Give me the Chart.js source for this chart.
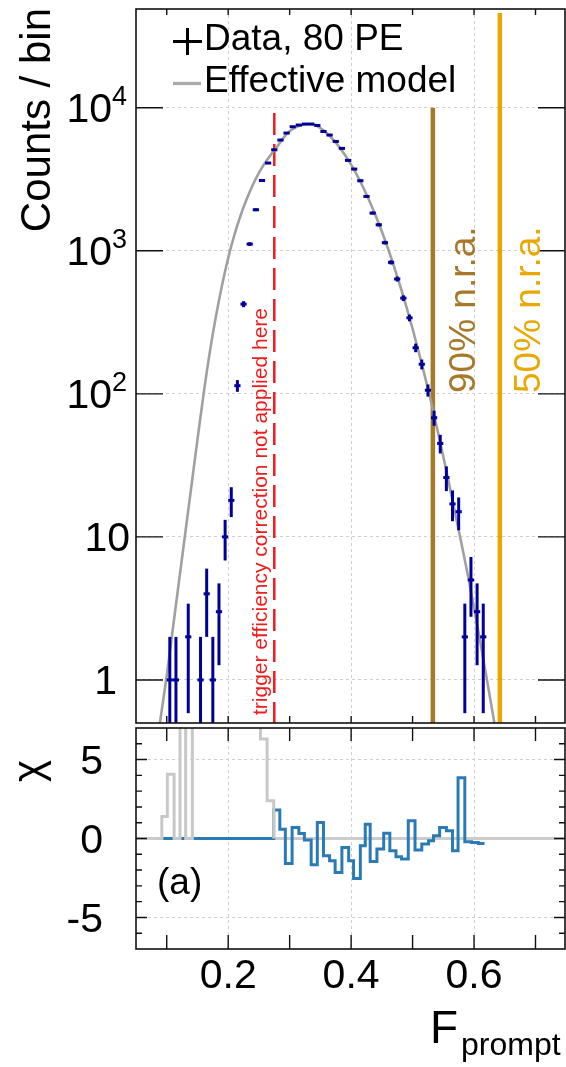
<!DOCTYPE html>
<html>
<head>
<meta charset="utf-8">
<script src="https://cdn.jsdelivr.net/npm/chart.js@4.4.0/dist/chart.umd.min.js"></script>
<style>
  body { margin: 0; background: #fff; }
  #wrap { position: relative; width: 566px; height: 1067px; }
  canvas { position: absolute; left: 0; }
</style>
</head>
<body>
<div id="wrap">
  <canvas id="top" width="566" height="725" style="top:0px"></canvas>
  <canvas id="bottom" width="566" height="342" style="top:725px"></canvas>
</div>
<script>
var FONT = '"Liberation Sans", Arial, Helvetica, sans-serif';

// data histogram, 0.01 wide bins in F_prompt (empty bins are not drawn)
var binCentres = [0.105, 0.115, 0.135, 0.155, 0.165, 0.175, 0.185, 0.195, 0.205, 0.215,
                  0.225, 0.235, 0.245, 0.255, 0.265, 0.275, 0.285, 0.295, 0.305, 0.315,
                  0.325, 0.335, 0.345, 0.355, 0.365, 0.375, 0.385, 0.395, 0.405, 0.415,
                  0.425, 0.435, 0.445, 0.455, 0.465, 0.475, 0.485, 0.495, 0.505, 0.515,
                  0.525, 0.535, 0.545, 0.555, 0.565, 0.575, 0.585, 0.595, 0.605, 0.615];
var counts = [1, 1, 2, 1, 4, 1, 3, 10, 18, 114,
              424, 1114, 1936, 3100, 4105, 5084, 5944, 6653, 7364, 7569,
              7690, 7690, 7520, 6826, 6442, 5811, 5198, 4284, 3727, 3088,
              2399, 1835, 1520, 1140, 830, 635, 467, 340, 210, 161,
              106, 68, 45, 26, 17, 15, 2, 5, 3, 2];

// effective model curve
var modelF = [0.085, 0.09, 0.10, 0.11, 0.12, 0.13, 0.14, 0.15, 0.16, 0.17, 0.18, 0.19, 0.20,
              0.21, 0.22, 0.23, 0.24, 0.25, 0.26, 0.27, 0.28, 0.29, 0.30, 0.31, 0.32, 0.33,
              0.34, 0.35, 0.36, 0.37, 0.38, 0.39, 0.40, 0.41, 0.42, 0.43, 0.44, 0.45, 0.46,
              0.47, 0.48, 0.49, 0.50, 0.51, 0.52, 0.53, 0.54, 0.55, 0.56, 0.57, 0.58, 0.59,
              0.60, 0.61, 0.62, 0.63, 0.64];
var modelCounts = [0.38, 0.54, 1.07, 2.29, 4.9, 10.5, 22.4, 47.9, 100, 195, 347, 575, 891,
                   1288, 1758, 2291, 2884, 3508, 4121, 4732, 5370, 6166, 6839, 7295, 7568, 7691,
                   7621, 7211, 6668, 6039, 5370, 4677, 4000, 3357, 2761, 2223, 1758, 1365, 1038,
                   773, 565, 406, 285, 196, 133, 88, 57, 36.5, 22.8, 14.1, 8.8, 5.4,
                   3.2, 1.86, 1.06, 0.6, 0.33];

// vertical marker lines: position and upper end
var triggerCut = 0.275, triggerTop = 9200;
var nra90 = 0.533, nra90Top = 10000;
var nra50 = 0.642, nra50Top = 46000;

// chi residuals, step edges and values
var chiEdges = [0.274, 0.284, 0.293, 0.304, 0.315, 0.324, 0.335, 0.345, 0.355, 0.365,
                0.374, 0.385, 0.396, 0.404, 0.415, 0.423, 0.431, 0.442, 0.453, 0.463,
                0.473, 0.482, 0.493, 0.504, 0.515, 0.526, 0.534, 0.544, 0.555, 0.565,
                0.574, 0.585, 0.596, 0.607, 0.617];
var chiValues = [1.80, 0.59, -1.58, 0.70, 0.32, -0.10, -1.66, 1.01, -1.09, -1.41,
                 -2.15, -0.57, -1.41, -2.53, -0.46, 0.91, -1.45, -0.67, 0.34, -0.78,
                 -1.16, -1.30, 1.12, -0.73, -0.35, -0.15, 0.17, 0.70, 0.49, -0.78,
                 3.85, -0.21, -0.25, -0.32];
var chiStart = 0.094;
// bins below the trigger cut (grey)
var greyEdges = [0.082, 0.092, 0.101, 0.112, 0.1216, 0.1308, 0.1417, 0.2525, 0.2633, 0.2741];
var greyValues = [0, 1.39, 4.07, 0, 9, 0, 9, 6.3, 2.39, 0];

var xTicks = [0.2, 0.4, 0.6];
var xMinor = [0.1, 0.2, 0.3, 0.4, 0.5, 0.6, 0.7];
var logTicks = [1, 10, 100, 1000, 10000];
var chiTicks = [5, 0, -5];
var chiMinor = [-6, -5, -4, -3, -2, -1, 0, 1, 2, 3, 4, 5, 6];

function pts(xs, ys) {
  return xs.map(function (x, i) { return { x: x, y: ys[i] }; });
}

var bluePts = [{ x: chiStart, y: 0 }];
chiValues.forEach(function (v, i) { bluePts.push({ x: chiEdges[i], y: v }); });
bluePts.push({ x: chiEdges[chiEdges.length - 1], y: chiValues[chiValues.length - 1] });

function vtext(ctx, str, x, y, align, font, color) {
  ctx.save();
  ctx.translate(x, y);
  ctx.rotate(-Math.PI / 2);
  ctx.font = font;
  ctx.fillStyle = color;
  ctx.textAlign = align;
  ctx.textBaseline = 'alphabetic';
  ctx.fillText(str, 0, 0);
  ctx.restore();
}

function frameAndTicks(chart, botLen, topLen, yTicks) {
  var ctx = chart.ctx, a = chart.chartArea, xs = chart.scales.x, ys = chart.scales.y;
  ctx.save();
  ctx.strokeStyle = '#111';
  ctx.lineWidth = 1.4;
  ctx.beginPath();
  xMinor.forEach(function (f) {
    var px = xs.getPixelForValue(f);
    ctx.moveTo(px, a.bottom); ctx.lineTo(px, a.bottom - botLen);
    ctx.moveTo(px, a.top); ctx.lineTo(px, a.top + topLen);
  });
  yTicks.forEach(function (t) {
    var py = ys.getPixelForValue(t[0]);
    ctx.moveTo(a.left, py); ctx.lineTo(a.left + t[1], py);
    ctx.moveTo(a.right, py); ctx.lineTo(a.right - t[1], py);
  });
  ctx.stroke();
  ctx.lineWidth = 1.6;
  ctx.strokeRect(a.left, a.top, a.right - a.left, a.bottom - a.top);
  ctx.restore();
}

var gridOpts = { color: '#cfcfcf', lineWidth: 1, drawTicks: false };
var borderOpts = { display: false, dash: [3, 3] };

// ---------- upper panel ----------
var errorBars = {
  id: 'errorBars',
  afterDatasetsDraw: function (chart) {
    var ctx = chart.ctx, x = chart.scales.x, y = chart.scales.y, a = chart.chartArea;
    ctx.save();
    ctx.beginPath();
    ctx.rect(a.left, a.top, a.right - a.left, a.bottom - a.top);
    ctx.clip();
    ctx.strokeStyle = '#000099';
    ctx.lineWidth = 3;
    binCentres.forEach(function (f, i) {
      var n = counts[i], e = Math.sqrt(n);
      var px = x.getPixelForValue(f);
      var lo = (n - e) > y.min ? y.getPixelForValue(n - e) : a.bottom;
      var hi = y.getPixelForValue(n + e);
      ctx.beginPath();
      ctx.moveTo(px, lo);
      ctx.lineTo(px, hi);
      ctx.stroke();
    });
    ctx.restore();
  }
};

var topDecor = {
  id: 'topDecor',
  afterDraw: function (chart) {
    var ctx = chart.ctx, y = chart.scales.y;
    frameAndTicks(chart, 7, 6, logTicks.map(function (v) { return [v, 27]; }));
    ctx.save();
    ctx.fillStyle = '#000';
    ctx.textBaseline = 'alphabetic';
    ctx.textAlign = 'right';
    logTicks.forEach(function (v) {
      var py = y.getPixelForValue(v), ex = Math.round(Math.log10(v));
      var base = py + 14.5;
      if (ex === 0) {
        ctx.font = '41px ' + FONT;
        ctx.fillText('1', 117, base);
      } else if (ex === 1) {
        ctx.font = '41px ' + FONT;
        ctx.fillText('10', 130, base);
      } else {
        ctx.font = '27px ' + FONT;
        ctx.fillText(String(ex), 127, base - 17);
        var w = ctx.measureText(String(ex)).width;
        ctx.font = '41px ' + FONT;
        ctx.fillText('10', 127 - w, base);
      }
    });
    ctx.restore();

    vtext(ctx, 'Counts / bin', 50, 8, 'right', '42px ' + FONT, '#000');

    // legend
    ctx.save();
    ctx.strokeStyle = '#000';
    ctx.lineWidth = 3;
    ctx.beginPath();
    ctx.moveTo(173, 41.5); ctx.lineTo(202, 41.5);
    ctx.moveTo(187.5, 28); ctx.lineTo(187.5, 55);
    ctx.stroke();
    ctx.strokeStyle = '#aaaaaa';
    ctx.lineWidth = 3.3;
    ctx.beginPath();
    ctx.moveTo(173, 83.5); ctx.lineTo(201, 83.5);
    ctx.stroke();
    ctx.fillStyle = '#000';
    ctx.font = '37px ' + FONT;
    ctx.textAlign = 'left';
    ctx.fillText('Data, 80 PE', 204, 50);
    ctx.fillText('Effective model', 204, 92);
    ctx.restore();

    vtext(ctx, 'trigger efficiency correction not applied here', 267, 715, 'left', '21px ' + FONT, '#ee1c1c');
    vtext(ctx, '90% n.r.a.', 475, 393, 'left', '37px ' + FONT, '#a8782a');
    vtext(ctx, '50% n.r.a.', 540, 393, 'left', '37px ' + FONT, '#e8a800');
  }
};

new Chart(document.getElementById('top').getContext('2d'), {
  type: 'line',
  data: {
    datasets: [
      {
        data: pts(binCentres, counts), showLine: false, order: 0,
        pointStyle: 'line', pointRadius: 3.1, pointHoverRadius: 0, pointBorderWidth: 3,
        borderColor: '#000099', backgroundColor: '#000099'
      },
      {
        data: pts(modelF, modelCounts), order: 1, borderColor: '#a0a0a0', borderWidth: 2.6,
        pointRadius: 0, pointHoverRadius: 0, cubicInterpolationMode: 'monotone'
      },
      {
        data: [{ x: triggerCut, y: triggerTop }, { x: triggerCut, y: 0.5 }], order: 2,
        borderColor: '#ee1c1c', borderWidth: 2.5, borderDash: [22, 9], pointRadius: 0, pointHoverRadius: 0
      },
      {
        data: [{ x: nra90, y: nra90Top }, { x: nra90, y: 0.5 }], order: 2,
        borderColor: '#a8782a', borderWidth: 4.5, pointRadius: 0, pointHoverRadius: 0
      },
      {
        data: [{ x: nra50, y: nra50Top }, { x: nra50, y: 0.5 }], order: 2,
        borderColor: '#e8a800', borderWidth: 4.5, pointRadius: 0, pointHoverRadius: 0
      }
    ]
  },
  options: {
    responsive: false,
    animation: false,
    events: [],
    layout: { autoPadding: false, padding: { top: 9, right: 1, left: 0, bottom: 0 } },
    plugins: { legend: { display: false }, tooltip: { enabled: false } },
    scales: {
      x: {
        type: 'linear', min: 0.05, max: 0.748,
        ticks: { display: false }, grid: gridOpts, border: borderOpts,
        afterBuildTicks: function (s) { s.ticks = xTicks.map(function (v) { return { value: v }; }); },
        afterFit: function (s) { s.height = 2; }
      },
      y: {
        type: 'logarithmic', min: 0.5, max: 49000,
        ticks: { display: false }, grid: gridOpts, border: borderOpts,
        afterBuildTicks: function (s) { s.ticks = logTicks.map(function (v) { return { value: v }; }); },
        afterFit: function (s) { s.width = 136; }
      }
    }
  },
  plugins: [errorBars, topDecor]
});

// ---------- lower panel (chi) ----------
var bottomDecor = {
  id: 'bottomDecor',
  afterDraw: function (chart) {
    var ctx = chart.ctx, y = chart.scales.y;
    frameAndTicks(chart, 14, 13, chiMinor.map(function (v) { return [v, v % 5 === 0 ? 11 : 6]; }));
    ctx.save();
    ctx.fillStyle = '#000';
    ctx.textAlign = 'right';
    ctx.textBaseline = 'alphabetic';
    ctx.font = '41px ' + FONT;
    chiTicks.forEach(function (v) {
      ctx.fillText(String(v), 103, y.getPixelForValue(v) + 14.5);
    });
    ctx.restore();
    vtext(ctx, 'χ', 42, 35, 'right', '42px ' + FONT, '#000');
    ctx.save();
    ctx.fillStyle = '#000';
    ctx.textAlign = 'left';
    ctx.textBaseline = 'alphabetic';
    ctx.font = '37px ' + FONT;
    ctx.fillText('(a)', 157, 169);
    ctx.font = '46px ' + FONT;
    ctx.fillText('F', 430, 318);
    ctx.font = '32px ' + FONT;
    ctx.fillText('prompt', 461, 330);
    ctx.restore();
  }
};

new Chart(document.getElementById('bottom').getContext('2d'), {
  type: 'line',
  data: {
    datasets: [
      {
        data: pts(greyEdges, greyValues), order: 0, stepped: 'before',
        borderColor: '#c8c8c8', borderWidth: 3, pointRadius: 0, pointHoverRadius: 0
      },
      {
        data: bluePts, order: 1, stepped: 'before',
        borderColor: '#2a7ab5', borderWidth: 3, pointRadius: 0, pointHoverRadius: 0,
        segment: {
          borderColor: function (c) {
            return (c.p0.parsed.y === 0 && c.p1.parsed.y === 0) ? '#74a9d4' : undefined;
          }
        }
      },
      {
        data: [{ x: 0.05, y: 0 }, { x: 0.748, y: 0 }], order: 2,
        borderColor: '#cccccc', borderWidth: 3, pointRadius: 0, pointHoverRadius: 0
      }
    ]
  },
  options: {
    responsive: false,
    animation: false,
    events: [],
    layout: { autoPadding: false, padding: { top: 3, right: 1, left: 0, bottom: 0 } },
    plugins: { legend: { display: false }, tooltip: { enabled: false } },
    scales: {
      x: {
        type: 'linear', min: 0.05, max: 0.748,
        grid: gridOpts, border: borderOpts,
        ticks: {
          color: '#000', font: { family: FONT, size: 41 }, padding: 3, maxRotation: 0,
          callback: function (v) { return v.toFixed(1); }
        },
        afterBuildTicks: function (s) { s.ticks = xTicks.map(function (v) { return { value: v }; }); },
        afterFit: function (s) { s.height = 118; }
      },
      y: {
        type: 'linear', min: -7, max: 7,
        grid: gridOpts, border: borderOpts,
        ticks: { display: false },
        afterBuildTicks: function (s) { s.ticks = chiTicks.map(function (v) { return { value: v }; }); },
        afterFit: function (s) { s.width = 136; }
      }
    }
  },
  plugins: [bottomDecor]
});
</script>
</body>
</html>
